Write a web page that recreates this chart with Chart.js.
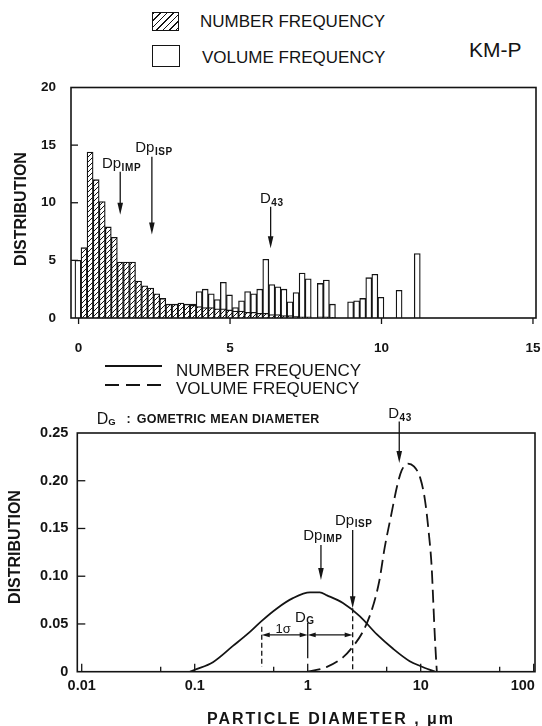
<!DOCTYPE html>
<html>
<head>
<meta charset="utf-8">
<title>KM-P particle size distribution</title>
<script src="https://cdn.jsdelivr.net/npm/chart.js@4.4.1/dist/chart.umd.min.js"></script>
<style>
  html, body { margin:0; padding:0; background:#fff; }
  body { width:542px; height:726px; position:relative; overflow:hidden; color:#141414;
         font-family:"Liberation Sans", Arial, Helvetica, sans-serif; }
  canvas { position:absolute; left:0; }
  #c1 { top:70px; }
  #c2 { top:398px; }
  .t { position:absolute; white-space:nowrap; line-height:1; }
  .box { position:absolute; border:1.5px solid #141414; box-sizing:border-box; background:#fff; }
  .hatch { background: repeating-linear-gradient(135deg, #141414 0 1.2px, #fff 1.2px 4.6px); }
  .vt { position:absolute; white-space:nowrap; line-height:1; font-weight:bold; font-size:16px;
        transform:translate(-50%,-50%) rotate(-90deg); }
</style>
</head>
<body>
<canvas id="c1" width="542" height="300"></canvas>
<canvas id="c2" width="542" height="328"></canvas>

<!-- top legend -->
<div class="box hatch" style="left:152px;top:12px;width:27px;height:19px"></div>
<div class="t" style="left:200px;top:13.2px;font-size:17px">NUMBER FREQUENCY</div>
<div class="box" style="left:152px;top:45px;width:28px;height:22px"></div>
<div class="t" style="left:202px;top:48.7px;font-size:17px">VOLUME FREQUENCY</div>
<div class="t" style="left:469px;top:38.5px;font-size:21px">KM-P</div>
<div class="vt" style="left:21px;top:209px">DISTRIBUTION</div>

<!-- line legend -->
<div style="position:absolute;left:105px;top:365px;width:57px;height:2px;background:#141414"></div>
<div class="t" style="left:176px;top:362.2px;font-size:17px">NUMBER FREQUENCY</div>
<div style="position:absolute;left:105px;top:384px;width:62px;height:2px;background:repeating-linear-gradient(to right,#141414 0 14px,transparent 14px 21px)"></div>
<div class="t" style="left:176px;top:380px;font-size:17px">VOLUME FREQUENCY</div>

<!-- bottom chart heading -->
<div class="t" style="left:96.7px;top:411.4px;font-size:16px">D</div>
<div class="t" style="left:108.3px;top:417.1px;font-size:9.5px;font-weight:bold">G</div>
<div class="t" style="left:126.5px;top:413.4px;font-size:12.5px;font-weight:bold">:</div>
<div class="t" style="left:136.7px;top:413.4px;font-size:12.5px;font-weight:bold;letter-spacing:0.3px">GOMETRIC MEAN DIAMETER</div>
<div class="vt" style="left:15px;top:547px">DISTRIBUTION</div>
<div class="t" style="left:331px;top:710.5px;font-size:16px;font-weight:bold;letter-spacing:2px;transform:translateX(-50%)">PARTICLE DIAMETER , μm</div>

<script>
// ---------------- data: top histogram (particle diameter, um) ----------------
const binCenters = [-0.02, 0.18, 0.38, 0.58, 0.78, 0.98, 1.18, 1.38, 1.58, 1.78, 1.98,
  2.18, 2.38, 2.58, 2.78, 2.98, 3.18, 3.38, 3.58, 3.78, 3.98, 4.18, 4.38, 4.58, 4.78, 4.98,
  5.18, 5.38, 5.58, 5.78, 5.98, 6.18, 6.38, 6.58, 6.78, 6.98, 7.18, 7.38, 7.58, 7.78, 7.98,
  8.18, 8.38, 8.58, 8.78, 8.98, 9.18, 9.38, 9.58, 9.78, 9.98, 10.18, 10.38, 10.58, 10.78, 10.98, 11.18];
const numberFreq = [0,
  6.1, 14.4, 12.0, 10.1, 7.9, 7.0, 4.85, 4.85, 4.85,
  3.2, 2.8, 2.6, 2.1, 1.7, 1.2, 1.2, 1.3, 1.2, 1.1,
  1.0, 0.9, 0.9, 0.8, 0.8, 0.7, 0.6, 0.6, 0.5, 0.5,
  0.4, 0.4, 0.3, 0.3, 0.2, 0.2, 0.15, 0.1, 0.1, 0,
  0.1, 0.1, 0.05, 0, 0, 0, 0, 0, 0, 0,
  0, 0, 0, 0, 0, 0, 0];
const volumeFreq = [5.0,
  0.3, 0.4, 0.5, 0.5, 0.6, 0.6, 0.7, 0.7, 0.8,
  0.8, 0.9, 0.9, 1.0, 1.0, 1.0, 1.1, 1.1, 1.1, 1.2,
  2.3, 2.5, 2.1, 1.6, 3.1, 2.0, 0.9, 1.5, 2.3, 2.1,
  2.5, 5.1, 2.9, 2.7, 2.5, 1.4, 2.2, 3.9, 3.4, 0,
  3.0, 3.3, 1.2, 0, 0, 1.4, 1.5, 1.7, 3.5, 3.8,
  1.8, 0, 0, 2.4, 0, 0, 5.6];
const topXTicks = [0, 5, 10, 15];
const topYTicks = [0, 5, 10, 15, 20];

// ---------------- data: bottom distributions (log diameter) ----------------
const numDiam = [0.091, 0.10, 0.145, 0.218, 0.31, 0.39, 0.53, 0.74, 1.05, 1.28, 1.48, 2.05, 2.9, 4.1, 5.7, 8.0, 9.9, 13.4];
const numDist = [0, 0.002, 0.010, 0.027, 0.042, 0.053, 0.066, 0.077, 0.083, 0.083, 0.080, 0.072, 0.058, 0.039, 0.024, 0.011, 0.006, 0];
const volDiam = [1.0, 1.48, 2.05, 2.5, 3.08, 3.7, 4.3, 4.8, 5.5, 6.2, 6.8, 7.7, 8.7, 9.9, 10.9, 11.8, 12.5, 12.9, 13.3, 13.7, 13.9];
const volDist = [0, 0.005, 0.015, 0.026, 0.042, 0.065, 0.095, 0.13, 0.165, 0.195, 0.211, 0.218, 0.215, 0.203, 0.18, 0.145, 0.11, 0.075, 0.04, 0.012, 0];
const botXTicks = [0.01, 0.1, 1, 10, 100];
const botXMinor = [0.05, 0.5, 5, 50];
const botYTicks = [0, 0.05, 0.10, 0.15, 0.20, 0.25];

// ---------------- annotations (data units) ----------------
const topArrows = [ {x:1.375, from:12.7, to:8.95}, {x:2.42, from:14.0, to:7.25}, {x:6.34, from:9.65, to:6.05} ];
const topLabels = [ {x:0.77, y:13.0, main:'Dp', sub:'IMP'}, {x:1.87, y:14.43, main:'Dp', sub:'ISP'}, {x:5.99, y:9.97, main:'D', sub:'43'} ];
const botArrows = [ {x:6.46, from:0.262, to:0.2185}, {x:2.5, from:0.1485, to:0.0665}, {x:1.31, from:0.1328, to:0.0961} ];
const botLabels = [ {x:5.16, y:0.2656, main:'D', sub:'43'}, {x:1.745, y:0.1538, main:'Dp', sub:'ISP'},
                    {x:0.914, y:0.138, main:'Dp', sub:'IMP'}, {x:0.772, y:0.0524, main:'D', sub:'G'} ];
const sigmaVLines = [ {x:0.392, from:0.047, to:0.005, dash:true}, {x:2.5, from:0.0665, to:0.0, dash:true}, {x:1.0, from:0.051, to:0.014, dash:false} ];
const sigmaDims = [ {from:0.392, to:1.0, y:0.0385}, {from:1.0, to:2.5, y:0.0385} ];
const sigmaText = {x:0.605, y:0.0405, text:'1σ'};

// ---------------- helpers ----------------
const ink = '#141414';
const FONT = '"Liberation Sans", Arial, Helvetica, sans-serif';
Chart.defaults.font.family = FONT;
Chart.defaults.color = ink;

function seg(ctx, x1, y1, x2, y2) { ctx.beginPath(); ctx.moveTo(x1, y1); ctx.lineTo(x2, y2); ctx.stroke(); }
function arrowDown(ctx, x, yTop, yTip) {
  seg(ctx, x, yTop, x, yTip - 6);
  ctx.beginPath(); ctx.moveTo(x, yTip); ctx.lineTo(x - 2.8, yTip - 12); ctx.lineTo(x + 2.8, yTip - 12); ctx.closePath(); ctx.fill();
}
function arrowHead(ctx, xTip, y, dir) {
  ctx.beginPath(); ctx.moveTo(xTip, y); ctx.lineTo(xTip - dir * 8, y - 2.4); ctx.lineTo(xTip - dir * 8, y + 2.4); ctx.closePath(); ctx.fill();
}
function subLabel(ctx, px, py, main, sub, drop) {
  ctx.textAlign = 'left'; ctx.textBaseline = 'alphabetic';
  ctx.font = '15px ' + FONT;
  try { ctx.letterSpacing = '0px'; } catch (e) {}
  ctx.fillText(main, px, py);
  const w = ctx.measureText(main).width;
  ctx.font = 'bold 10px ' + FONT;
  try { ctx.letterSpacing = '0.6px'; } catch (e) {}
  ctx.fillText(sub, px + w + 0.5, py + drop);
  try { ctx.letterSpacing = '0px'; } catch (e) {}
}
function hatchPattern() {
  const s = 5, tile = document.createElement('canvas');
  tile.width = s; tile.height = s;
  const g = tile.getContext('2d');
  g.fillStyle = '#fff'; g.fillRect(0, 0, s, s);
  g.strokeStyle = ink; g.lineWidth = 1;
  g.beginPath();
  g.moveTo(0, s); g.lineTo(s, 0);
  g.moveTo(-1, 1); g.lineTo(1, -1);
  g.moveTo(s - 1, s + 1); g.lineTo(s + 1, s - 1);
  g.stroke();
  return g.createPattern(tile, 'repeat');
}
const tickFont = (size) => ({ family: FONT, size: size, weight: 'bold' });

// ---------------- top chart ----------------
const topDeco = {
  id: 'topDeco',
  afterDraw(chart) {
    const { ctx, chartArea: a, scales: { x, y } } = chart;
    ctx.save();
    ctx.strokeStyle = ink; ctx.fillStyle = ink; ctx.setLineDash([]);
    ctx.lineWidth = 1.6;
    ctx.strokeRect(a.left, a.top, a.right - a.left, a.bottom - a.top);
    ctx.lineWidth = 1.3;
    topYTicks.forEach(v => { if (v <= y.min || v >= y.max) return; const py = y.getPixelForValue(v); seg(ctx, a.left, py, a.left + 7, py); });
    topXTicks.forEach(v => { const px = x.getPixelForValue(v); seg(ctx, px, a.bottom, px, a.bottom + 6); });
    topArrows.forEach(d => arrowDown(ctx, x.getPixelForValue(d.x), y.getPixelForValue(d.from), y.getPixelForValue(d.to)));
    topLabels.forEach(d => subLabel(ctx, x.getPixelForValue(d.x), y.getPixelForValue(d.y), d.main, d.sub, 3));
    ctx.restore();
  }
};

const pattern = hatchPattern();
new Chart(document.getElementById('c1'), {
  type: 'bar',
  data: {
    datasets: [
      { label: 'VOLUME FREQUENCY', data: binCenters.map((x, i) => ({ x: x, y: volumeFreq[i] })),
        backgroundColor: '#fff', borderColor: ink, borderWidth: 1.3, order: 2, grouped: false,
        barPercentage: 1, categoryPercentage: 1 },
      { label: 'NUMBER FREQUENCY', data: binCenters.map((x, i) => ({ x: x, y: numberFreq[i] })),
        backgroundColor: pattern, borderColor: ink, borderWidth: 1.3, order: 1, grouped: false,
        barPercentage: 1, categoryPercentage: 1 }
    ]
  },
  options: {
    responsive: false, animation: false, devicePixelRatio: 1,
    layout: { padding: { top: 17.5, right: 6, left: 0, bottom: 0 } },
    plugins: { legend: { display: false }, tooltip: { enabled: false } },
    scales: {
      x: { type: 'linear', min: -0.25, max: 15.1, offset: false,
           grid: { display: false, drawTicks: false }, border: { display: false },
           afterBuildTicks: s => { s.ticks = topXTicks.map(v => ({ value: v })); },
           afterFit: s => { s.height = 52; s.paddingLeft = 0; s.paddingRight = 0; },
           ticks: { padding: 22, font: tickFont(13.5), color: ink, maxRotation: 0, autoSkip: false, callback: v => String(v) } },
      y: { type: 'linear', min: 0, max: 20,
           grid: { display: false, drawTicks: false }, border: { display: false },
           afterBuildTicks: s => { s.ticks = topYTicks.map(v => ({ value: v })); },
           afterFit: s => { s.width = 71; s.paddingTop = 0; s.paddingBottom = 0; },
           ticks: { padding: 15, font: tickFont(13.5), color: ink, callback: v => String(v) } }
    }
  },
  plugins: [topDeco]
});

// ---------------- bottom chart ----------------
const botDeco = {
  id: 'botDeco',
  afterDraw(chart) {
    const { ctx, chartArea: a, scales: { x, y } } = chart;
    ctx.save();
    ctx.strokeStyle = ink; ctx.fillStyle = ink; ctx.setLineDash([]);
    ctx.lineWidth = 1.6;
    ctx.strokeRect(a.left, a.top, a.right - a.left, a.bottom - a.top);
    ctx.lineWidth = 1.3;
    botYTicks.forEach(v => { if (v <= y.min || v >= y.max) return; const py = y.getPixelForValue(v); seg(ctx, a.left, py, a.left + 8, py); });
    botXTicks.forEach(v => { const px = x.getPixelForValue(v); seg(ctx, px, a.bottom, px, a.bottom - 8); });
    botXMinor.forEach(v => { const px = x.getPixelForValue(v); seg(ctx, px, a.bottom, px, a.bottom - 5); });
    // sigma construction
    sigmaVLines.forEach(d => {
      ctx.setLineDash(d.dash ? [5, 3] : []);
      const px = x.getPixelForValue(d.x);
      seg(ctx, px, y.getPixelForValue(d.from), px, y.getPixelForValue(d.to));
    });
    ctx.setLineDash([]);
    sigmaDims.forEach(d => {
      const x1 = x.getPixelForValue(d.from), x2 = x.getPixelForValue(d.to), py = y.getPixelForValue(d.y);
      seg(ctx, x1 + 4, py, x2 - 4, py);
      arrowHead(ctx, x1, py, -1); arrowHead(ctx, x2, py, 1);
    });
    ctx.font = '13px ' + FONT; ctx.textAlign = 'center'; ctx.textBaseline = 'alphabetic';
    const sx = x.getPixelForValue(sigmaText.x), sy = y.getPixelForValue(sigmaText.y);
    ctx.fillStyle = '#fff'; ctx.fillRect(sx - 8, sy - 9, 16, 10); ctx.fillStyle = ink;
    ctx.fillText(sigmaText.text, sx, sy);
    // arrows and labels
    botArrows.forEach(d => arrowDown(ctx, x.getPixelForValue(d.x), y.getPixelForValue(d.from), y.getPixelForValue(d.to)));
    botLabels.forEach(d => subLabel(ctx, x.getPixelForValue(d.x), y.getPixelForValue(d.y), d.main, d.sub, 2.5));
    ctx.restore();
  }
};

new Chart(document.getElementById('c2'), {
  type: 'line',
  data: {
    datasets: [
      { label: 'NUMBER FREQUENCY', data: numDiam.map((x, i) => ({ x: x, y: numDist[i] })),
        borderColor: ink, borderWidth: 1.8, pointRadius: 0, fill: false, cubicInterpolationMode: 'monotone' },
      { label: 'VOLUME FREQUENCY', data: volDiam.map((x, i) => ({ x: x, y: volDist[i] })),
        borderColor: ink, borderWidth: 1.8, borderDash: [13, 6], pointRadius: 0, fill: false, cubicInterpolationMode: 'monotone' }
    ]
  },
  options: {
    responsive: false, animation: false, devicePixelRatio: 1,
    layout: { padding: { top: 35, right: 7, left: 0, bottom: 0 } },
    plugins: { legend: { display: false }, tooltip: { enabled: false } },
    scales: {
      x: { type: 'logarithmic', min: 0.00914, max: 102.7,
           grid: { display: false, drawTicks: false }, border: { display: false },
           afterBuildTicks: s => { s.ticks = botXTicks.map(v => ({ value: v })); },
           afterFit: s => { s.height = 54.3; s.paddingLeft = 0; s.paddingRight = 0; },
           ticks: { padding: 6, font: tickFont(14.5), color: ink, maxRotation: 0, autoSkip: false,
                    callback: v => v === 100 ? '100\u2002\u2002\u2002' : String(v) } },
      y: { type: 'linear', min: 0, max: 0.25,
           grid: { display: false, drawTicks: false }, border: { display: false },
           afterBuildTicks: s => { s.ticks = botYTicks.map(v => ({ value: v })); },
           afterFit: s => { s.width = 77.3; s.paddingTop = 0; s.paddingBottom = 0; },
           ticks: { padding: 9, font: tickFont(14.5), color: ink, callback: v => v === 0 ? '0' : v.toFixed(2) } }
    }
  },
  plugins: [botDeco]
});
</script>
</body>
</html>
